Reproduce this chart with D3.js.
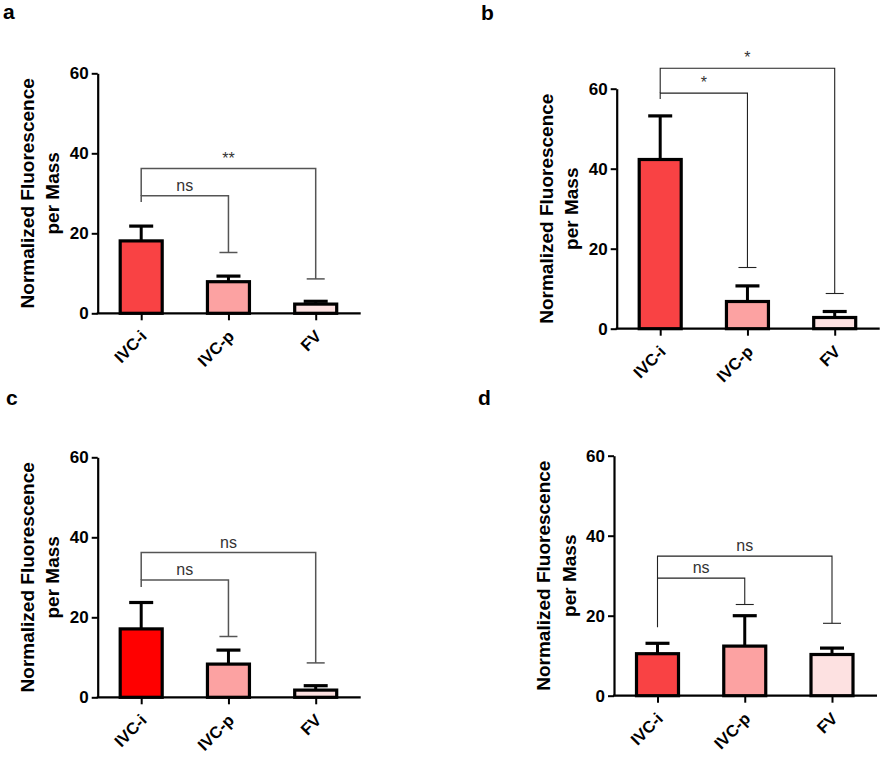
<!DOCTYPE html>
<html>
<head>
<meta charset="utf-8">
<script src="https://cdn.jsdelivr.net/npm/d3@7"></script>
<style>
  html, body { margin: 0; padding: 0; background: #fff; }
  svg { display: block; font-family: "Liberation Sans", Arial, sans-serif; }
</style>
</head>
<body>
<svg id="chart" width="882" height="758"></svg>
<script>
// ---------- data ----------
const categories = ["IVC-i", "IVC-p", "FV"];
const yTicks = [0, 20, 40, 60];

const meansA = [18.1, 7.9, 2.3];
const semA   = [3.7, 1.4, 0.7];
const meansB = [42.3, 6.8, 2.8];
const semB   = [10.9, 3.9, 1.5];
const meansC = [17.1, 8.3, 1.8];
const semC   = [6.6, 3.5, 1.1];
const meansD = [10.5, 12.4, 10.3];
const semD   = [2.6, 7.6, 1.6];

const colorsABD = ["#f94244", "#fca2a2", "#fde1e1"];
const colorsC   = ["#ff0000", "#fca2a2", "#fde1e1"];

// brackets: [fromIndex, toIndex, level, leftLegEnd, rightLegEnd, label]
const bracketsA = [[0, 1, 29.4, 27.8, 15.2, "ns"], [0, 2, 36.2, 29.4, 8.6, "**"]];
const bracketsB = [[0, 1, 58.9, 57.4, 15.3, "*"],  [0, 2, 65.1, 58.9, 8.8, "*"]];
const bracketsC = [[0, 1, 29.3, 27.6, 15.2, "ns"], [0, 2, 36.2, 29.3, 8.6, "ns"]];
const bracketsD = [[0, 1, 29.4, 17.1, 22.8, "ns"], [0, 2, 34.9, 29.4, 18.1, "ns"]];

const yLabelLines = ["Normalized Fluorescence", "per Mass"];

// ---------- layout ----------
const panels = [
  { letter: "a", means: meansA, sems: semA, colors: colorsABD, brackets: bracketsA,
    ax: 97.7, y0: 313.3, lx: 3, ly: 18.5, bStroke: "#555", bWidth: 1.5 },
  { letter: "b", means: meansB, sems: semB, colors: colorsABD, brackets: bracketsB,
    ax: 616.7, y0: 328.7, lx: 481, ly: 20, bStroke: "#222", bWidth: 1.1 },
  { letter: "c", means: meansC, sems: semC, colors: colorsC, brackets: bracketsC,
    ax: 97.7, y0: 697.3, lx: 6, ly: 405, bStroke: "#555", bWidth: 1.5 },
  { letter: "d", means: meansD, sems: semD, colors: colorsABD, brackets: bracketsD,
    ax: 614, y0: 695.7, lx: 478, ly: 405, bStroke: "#222", bWidth: 1.1 }
];

const svg = d3.select("#chart");

panels.forEach(p => {
  const g = svg.append("g");

  const y = d3.scaleLinear().domain([0, 60]).range([p.y0, p.y0 - 240]);
  const x = d3.scalePoint().domain(categories).range([p.ax + 43.5, p.ax + 218]);
  const barW = 42;
  const axisEnd = p.ax + 263;

  // panel letter
  g.append("text").attr("x", p.lx).attr("y", p.ly)
    .attr("font-size", 21).attr("font-weight", "bold").attr("fill", "#000")
    .text(p.letter);

  // y axis
  const yAxis = d3.axisLeft(y).tickValues(yTicks).tickSize(6).tickPadding(3).tickSizeOuter(0);
  const gy = g.append("g").attr("transform", `translate(${p.ax},0)`).call(yAxis);
  gy.select(".domain").attr("stroke", "#000").attr("stroke-width", 2.2);
  gy.selectAll(".tick line").attr("stroke", "#000").attr("stroke-width", 2);
  gy.selectAll(".tick text").attr("font-size", 17).attr("font-weight", "bold")
    .attr("fill", "#000").attr("font-family", "Liberation Sans, Arial, sans-serif");

  // y label
  const ylab = g.append("text")
    .attr("transform", `translate(${p.ax - 64},${p.y0 - 120}) rotate(-90)`)
    .attr("text-anchor", "middle").attr("font-size", 19).attr("font-weight", "bold").attr("fill", "#000");
  ylab.append("tspan").attr("x", 0).attr("y", 0).text(yLabelLines[0]);
  ylab.append("tspan").attr("x", 0).attr("y", 25.5).text(yLabelLines[1]);

  // x axis
  const xAxis = d3.axisBottom(x).tickSize(7).tickFormat("").tickSizeOuter(0);
  const gx = g.append("g").attr("transform", `translate(0,${p.y0})`).call(xAxis);
  gx.select(".domain").remove();
  gx.selectAll(".tick line").attr("stroke", "#000").attr("stroke-width", 2);
  g.append("line").attr("x1", p.ax - 1).attr("x2", axisEnd)
    .attr("y1", p.y0).attr("y2", p.y0).attr("stroke", "#000").attr("stroke-width", 2.2);

  // x labels
  g.selectAll(".xlab").data(categories).enter().append("text")
    .attr("transform", d => `translate(${x(d) + 6.6},${p.y0 + 24}) rotate(-45)`)
    .attr("text-anchor", "end").attr("font-size", 16.5).attr("font-weight", "bold").attr("fill", "#000")
    .text(d => d);

  const data = categories.map((c, i) => ({ c, m: p.means[i], s: p.sems[i], col: p.colors[i] }));

  // error bars
  const eb = g.selectAll(".eb").data(data).enter().append("g");
  eb.append("line").attr("x1", d => x(d.c)).attr("x2", d => x(d.c))
    .attr("y1", d => y(d.m)).attr("y2", d => y(d.m + d.s))
    .attr("stroke", "#000").attr("stroke-width", 3);
  eb.append("line").attr("x1", d => x(d.c) - 12).attr("x2", d => x(d.c) + 12)
    .attr("y1", d => y(d.m + d.s)).attr("y2", d => y(d.m + d.s))
    .attr("stroke", "#000").attr("stroke-width", 3.2);

  // bars
  g.selectAll(".bar").data(data).enter().append("rect")
    .attr("x", d => x(d.c) - barW / 2).attr("width", barW)
    .attr("y", d => y(d.m)).attr("height", d => p.y0 - y(d.m))
    .attr("fill", d => d.col).attr("stroke", "#000").attr("stroke-width", 3.2);

  // significance brackets
  p.brackets.forEach(b => {
    const [i0, i1, lvl, lEnd, rEnd, lab] = b;
    const x0 = x(categories[i0]), x1 = x(categories[i1]);
    const path = `M${x0},${y(lEnd)}V${y(lvl)}H${x1}V${y(rEnd)}`;
    g.append("path").attr("d", path).attr("fill", "none")
      .attr("stroke", p.bStroke).attr("stroke-width", p.bWidth);
    g.append("line").attr("x1", x1 - 9).attr("x2", x1 + 9)
      .attr("y1", y(rEnd)).attr("y2", y(rEnd))
      .attr("stroke", p.bStroke).attr("stroke-width", p.bWidth);
    g.append("text").attr("x", (x0 + x1) / 2).attr("y", y(lvl) - 5)
      .attr("text-anchor", "middle").attr("font-size", 16).attr("fill", "#333")
      .text(lab);
  });
});
</script>
</body>
</html>
